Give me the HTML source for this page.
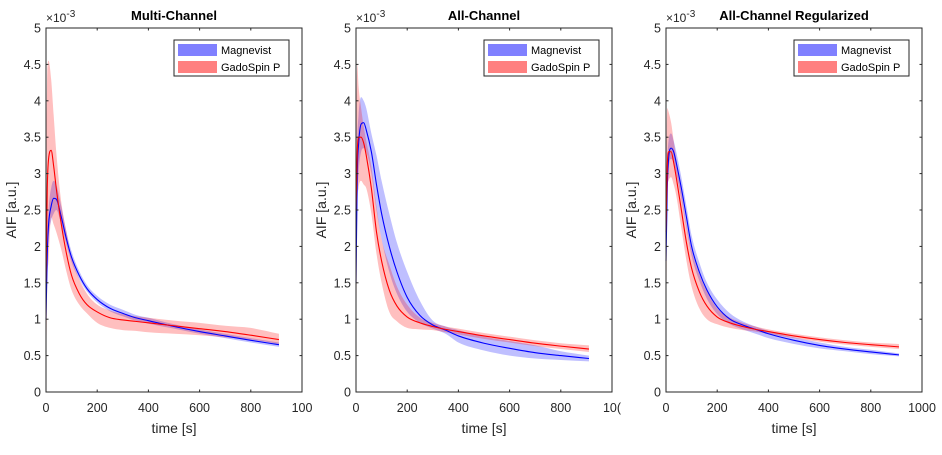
<!DOCTYPE html>
<html><head><meta charset="utf-8"><style>
body{margin:0;background:#fff}
svg text{font-family:"Liberation Sans",Arial,sans-serif;fill:#262626}
</style></head><body>
<svg id="c" width="942" height="450" xmlns="http://www.w3.org/2000/svg"></svg>
<script>
const times=[0,5,10,20,30,40,60,80,100,130,160,200,250,300,350,400,500,600,700,800,910];
const titles=["Multi-Channel","All-Channel","All-Channel Regularized"];
const xTicks=[0,200,400,600,800,1000];
const yTicks=[0,0.5,1,1.5,2,2.5,3,3.5,4,4.5,5];
// Panel 1
const p1BlueMean=[1.0,1.9,2.3,2.55,2.66,2.65,2.4,2.1,1.85,1.6,1.42,1.27,1.15,1.08,1.02,0.98,0.9,0.83,0.77,0.71,0.65];
const p1BlueLo=[0.9,1.7,2.1,2.35,2.45,2.5,2.3,2.02,1.78,1.55,1.38,1.23,1.11,1.04,0.98,0.94,0.87,0.8,0.74,0.68,0.62];
const p1BlueHi=[1.1,2.1,2.5,2.8,2.9,2.85,2.55,2.2,1.93,1.66,1.47,1.32,1.2,1.13,1.06,1.02,0.93,0.86,0.8,0.74,0.68];
const p1RedMean=[1.5,2.8,3.2,3.32,3.1,2.8,2.3,1.9,1.6,1.35,1.2,1.1,1.02,0.99,0.97,0.95,0.91,0.87,0.83,0.78,0.72];
const p1RedLo=[0.1,1.5,1.8,2.4,2.3,2.2,1.95,1.65,1.4,1.2,1.08,0.95,0.88,0.85,0.84,0.82,0.8,0.78,0.75,0.72,0.66];
const p1RedHi=[3.0,4.4,4.55,4.3,3.8,3.3,2.6,2.2,1.85,1.55,1.35,1.2,1.12,1.07,1.04,1.02,0.98,0.95,0.91,0.88,0.8];
// Panel 2
const p2BlueMean=[1.5,3.0,3.4,3.68,3.7,3.6,3.3,2.85,2.45,2.0,1.65,1.3,1.05,0.92,0.85,0.77,0.67,0.6,0.54,0.5,0.46];
const p2BlueLo=[1.3,2.6,3.0,3.3,3.35,3.3,3.0,2.5,2.1,1.65,1.35,1.1,0.95,0.87,0.8,0.68,0.57,0.5,0.46,0.44,0.42];
const p2BlueHi=[1.8,3.4,3.8,4.05,4.0,3.9,3.55,3.25,2.9,2.45,2.05,1.65,1.25,0.98,0.9,0.85,0.76,0.7,0.64,0.56,0.5];
const p2RedMean=[2.5,3.3,3.5,3.5,3.42,3.25,2.8,2.2,1.8,1.4,1.18,1.03,0.95,0.9,0.86,0.83,0.77,0.72,0.67,0.63,0.59];
const p2RedLo=[0.1,2.5,2.8,2.9,2.85,2.8,2.45,1.9,1.5,1.1,0.97,0.88,0.86,0.85,0.82,0.79,0.73,0.68,0.63,0.59,0.55];
const p2RedHi=[3.5,4.5,4.2,3.9,3.65,3.45,3.1,2.55,2.1,1.75,1.45,1.2,1.02,0.95,0.9,0.87,0.81,0.76,0.71,0.67,0.64];
// Panel 3
const p3BlueMean=[1.8,2.8,3.2,3.35,3.3,3.15,2.8,2.4,2.0,1.65,1.4,1.17,1.0,0.92,0.86,0.8,0.71,0.64,0.59,0.55,0.51];
const p3BlueLo=[1.6,2.6,3.05,3.2,3.15,3.0,2.65,2.25,1.87,1.53,1.28,1.07,0.93,0.86,0.8,0.74,0.66,0.6,0.56,0.52,0.49];
const p3BlueHi=[2.0,3.1,3.45,3.55,3.45,3.3,2.95,2.55,2.15,1.78,1.5,1.27,1.08,0.97,0.9,0.84,0.75,0.68,0.62,0.58,0.53];
const p3RedMean=[2.2,3.1,3.3,3.3,3.15,2.95,2.5,2.05,1.7,1.38,1.18,1.03,0.95,0.9,0.86,0.83,0.77,0.72,0.68,0.65,0.62];
const p3RedLo=[0.1,2.8,2.9,2.95,2.85,2.7,2.25,1.8,1.45,1.15,1.0,0.93,0.88,0.85,0.83,0.8,0.74,0.69,0.65,0.62,0.59];
const p3RedHi=[3.0,3.9,3.85,3.7,3.45,3.2,2.75,2.3,1.95,1.62,1.38,1.15,1.02,0.95,0.9,0.86,0.8,0.75,0.71,0.68,0.66];

const panels=[
 {b:[p1BlueMean,p1BlueLo,p1BlueHi],r:[p1RedMean,p1RedLo,p1RedHi]},
 {b:[p2BlueMean,p2BlueLo,p2BlueHi],r:[p2RedMean,p2RedLo,p2RedHi]},
 {b:[p3BlueMean,p3BlueLo,p3BlueHi],r:[p3RedMean,p3RedLo,p3RedHi]}];
const X0=[46,356,666], W=256, Y0=392, Y5=28;
const svg=document.getElementById('c');
const NS='http://www.w3.org/2000/svg';
function mk(tag,attrs,parent){const e=document.createElementNS(NS,tag);for(const k in attrs)e.setAttribute(k,attrs[k]);(parent||svg).appendChild(e);return e;}
function txt(s,attrs,parent){const e=mk('text',attrs,parent);e.textContent=s;return e;}
// monotone cubic path through points (pixel coords)
function mono(px,py,start){
 const n=px.length, d=[], m=[];
 for(let i=0;i<n-1;i++)d.push((py[i+1]-py[i])/(px[i+1]-px[i]));
 m[0]=d[0]; m[n-1]=d[n-2];
 for(let i=1;i<n-1;i++){m[i]=(d[i-1]*d[i]<=0)?0:(d[i-1]+d[i])/2;
  const a=m[i]/d[i-1],b=m[i]/d[i]; const s=a*a+b*b; if(s>9){const t=3/Math.sqrt(s);m[i]=t*(d[i-1]+d[i])/2;}}
 let p=(start?start:'M')+px[0]+','+py[0];
 for(let i=0;i<n-1;i++){const h=px[i+1]-px[i];
  p+='C'+(px[i]+h/3)+','+(py[i]+m[i]*h/3)+' '+(px[i+1]-h/3)+','+(py[i+1]-m[i+1]*h/3)+' '+px[i+1]+','+py[i+1];}
 return p;
}
panels.forEach((p,i)=>{
 const x0=X0[i];
 const xs=t=>x0+t/1000*W, ys=v=>Y0-(v/5)*(Y0-Y5);
 const g=mk('g',{});
 
 
 mk('rect',{x:x0,y:Y5,width:W,height:Y0-Y5,fill:'#fff'},g);
 const PX=times.map(xs);
 function band(lo,hi,col,name){
  let d=mono(PX,hi.map(ys));
  const rx=PX.slice().reverse(), ry=lo.map(ys).reverse();
  d+=mono(rx,ry,'L')+'Z';
  const e=mk('path',{d:d,fill:col,'fill-opacity':0.25,stroke:'none'},g);
  
  
 }
 function line(m,col,name){
  const e=mk('path',{d:mono(PX,m.map(ys)),fill:'none',stroke:col,'stroke-width':1.1,'stroke-linejoin':'round'},g);
  
  
 }
 band(p.b[1],p.b[2],'#0000ff','magnevist-band');
 band(p.r[1],p.r[2],'#ff0000','gadospin-band');
 line(p.b[0],'#0000ff','magnevist-line');
 line(p.r[0],'#ff0000','gadospin-line');
 mk('rect',{x:x0,y:Y5,width:W,height:Y0-Y5,fill:'none',stroke:'#262626','stroke-width':1},g);
 xTicks.forEach(t=>{
  const x=xs(t);
  mk('line',{x1:x,x2:x,y1:Y0,y2:Y0-2.5,stroke:'#262626'},g);
  mk('line',{x1:x,x2:x,y1:Y5,y2:Y5+2.5,stroke:'#262626'},g);
  let s=String(t); if(t===1000&&i===0)s='100'; if(t===1000&&i===1)s='10(';
  const e=txt(s,{x:x,y:Y0+20,'font-size':12.5,'text-anchor':'middle'},g);
  
  
 });
 yTicks.forEach(v=>{
  const y=ys(v);
  mk('line',{x1:x0,x2:x0+2.5,y1:y,y2:y,stroke:'#262626'},g);
  mk('line',{x1:x0+W,x2:x0+W-2.5,y1:y,y2:y,stroke:'#262626'},g);
  const e=txt(String(v),{x:x0-5,y:y+4.5,'font-size':12.5,'text-anchor':'end'},g);
  
  
 });
 const ex=txt('',{x:x0,y:22,'font-size':12},g);
 ex.innerHTML='×10<tspan dy="-5" font-size="10">-3</tspan>';
 
 
 const tt=txt(titles[i],{x:x0+W/2,y:20,'font-size':13,'font-weight':'bold','text-anchor':'middle',style:'fill:#000'},g);
 
 
 const xl=txt('time [s]',{x:x0+W/2,y:433,'font-size':14,'text-anchor':'middle'},g);
 
 
 const yl=txt('AIF [a.u.]',{x:0,y:0,'font-size':14,'text-anchor':'middle',transform:'translate('+(x0-30)+',210) rotate(-90)'},g);
 
 
 const lg=mk('g',{},g);
 
 
 const lx=x0+128;
 mk('rect',{x:lx,y:40,width:115,height:36,fill:'#fff',stroke:'#262626','stroke-width':1},lg);
 mk('rect',{x:lx+4,y:44,width:39,height:12,fill:'#8080ff'},lg);
 mk('rect',{x:lx+4,y:61,width:39,height:12,fill:'#ff8080'},lg);
 txt('Magnevist',{x:lx+47,y:54,'font-size':11,style:'fill:#000'},lg);
 txt('GadoSpin P',{x:lx+47,y:71,'font-size':11,style:'fill:#000'},lg);
});
</script>
</body></html>
